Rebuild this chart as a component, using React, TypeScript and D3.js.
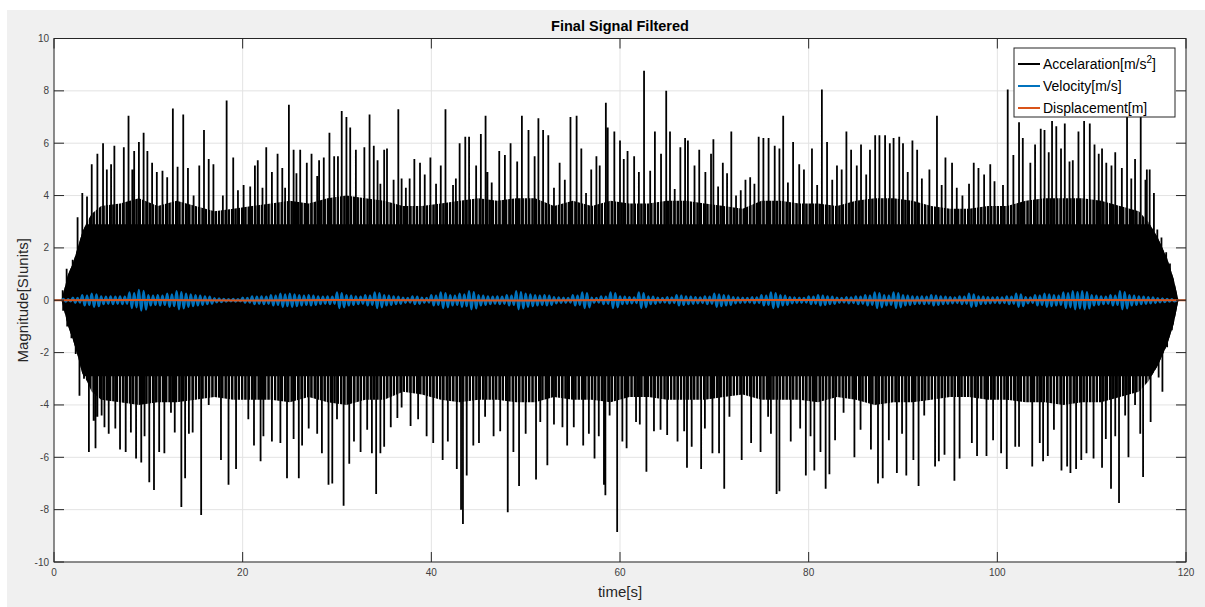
import React from 'react';
import * as d3 from 'd3';

const W = 1205;
const H = 607;

const xTicks = [0, 20, 40, 60, 80, 100, 120];
const yTicks = [-10, -8, -6, -4, -2, 0, 2, 4, 6, 8, 10];

// Acceleration: upper spike peaks [time, value]
const accUpperPeaks: [number, number][] = [
  [0.92, 0.38], [1.34, 1.2], [1.98, 1.55], [2.5, 3.17], [3.0, 4.1], [3.5, 3.96], [4.0, 5.2], [4.6, 5.6],
  [5.2, 6.0], [5.6, 5.0], [6.05, 5.2], [6.4, 5.9], [7.4, 5.85], [7.9, 7.05], [8.3, 5.0], [8.5, 5.7],
  [9.0, 6.05], [9.5, 6.4], [9.9, 5.7], [10.4, 5.25], [10.9, 4.9], [11.5, 4.95], [12.0, 4.7], [12.6, 7.33],
  [13.1, 5.1], [13.7, 7.1], [14.2, 5.05], [14.8, 4.0], [15.4, 5.15], [15.9, 6.5], [16.4, 5.4], [16.9, 5.2],
  [17.9, 4.0], [18.3, 7.63], [19.0, 5.45], [19.5, 4.2], [20.1, 4.4], [20.8, 4.35], [21.3, 5.15], [21.6, 5.35],
  [22.1, 4.3], [22.5, 5.85], [23.1, 4.9], [23.7, 5.6], [24.2, 5.05], [24.5, 4.3], [24.9, 7.47], [25.4, 5.75],
  [25.7, 4.85], [26.1, 5.75], [26.8, 5.25], [27.3, 5.6], [27.9, 4.75], [28.1, 5.35], [28.6, 5.45], [29.2, 6.4],
  [29.7, 5.5], [30.1, 5.5], [30.5, 7.23], [31.0, 7.0], [31.4, 6.6], [32.0, 5.75], [32.9, 5.85], [33.45, 7.1],
  [33.9, 5.9], [34.3, 5.35], [34.6, 4.45], [35.0, 5.75], [35.3, 5.8], [36.0, 4.6], [36.5, 7.3], [36.85, 4.65],
  [37.3, 4.3], [37.7, 4.65], [38.2, 5.4], [38.8, 5.25], [39.3, 4.8], [39.9, 5.45], [40.5, 4.45], [41.0, 5.15],
  [41.5, 7.3], [42.3, 4.4], [42.6, 4.65], [43.0, 6.0], [43.6, 6.25], [44.0, 6.25], [44.75, 5.15], [45.25, 6.35],
  [45.75, 7.05], [45.95, 4.9], [46.4, 4.5], [47.2, 5.7], [47.8, 5.55], [48.4, 6.0], [49.1, 5.3], [49.6, 7.05],
  [50.3, 6.5], [50.95, 5.5], [51.35, 6.95], [51.85, 6.5], [52.4, 6.3], [53.0, 4.3], [53.6, 5.25], [54.15, 4.6],
  [54.75, 7.0], [55.4, 7.05], [55.9, 5.8], [56.4, 4.1], [56.95, 5.0], [57.5, 5.5], [57.85, 5.15], [58.5, 7.55],
  [58.7, 6.6], [59.4, 6.45], [60.0, 6.1], [60.4, 5.4], [60.8, 5.7], [61.5, 5.5], [62.0, 4.9], [62.55, 8.77],
  [63.2, 4.95], [63.7, 6.45], [64.35, 5.6], [64.9, 8.0], [65.3, 6.45], [65.8, 4.25], [66.4, 5.85], [66.9, 6.2],
  [67.2, 6.1], [67.9, 5.15], [68.4, 5.75], [69.05, 4.9], [69.65, 5.6], [69.9, 6.15], [70.4, 4.35], [70.9, 5.25],
  [71.35, 4.85], [71.8, 6.45], [72.3, 4.0], [72.8, 4.2], [73.3, 4.6], [73.8, 4.7], [74.25, 4.45], [74.7, 6.25],
  [75.2, 6.2], [75.75, 6.2], [76.4, 5.9], [76.9, 5.8], [77.3, 7.05], [77.8, 4.5], [78.35, 6.05], [79.0, 5.2],
  [79.5, 5.0], [80.35, 5.8], [80.9, 4.4], [81.4, 8.05], [81.95, 6.05], [82.5, 4.6], [83.0, 5.15], [83.5, 5.0],
  [84.0, 6.45], [84.5, 5.75], [85.1, 5.15], [85.55, 5.95], [86.1, 4.8], [86.5, 5.75], [87.05, 6.3], [87.5, 6.3],
  [88.1, 6.3], [88.6, 6.0], [89.0, 6.2], [89.6, 6.25], [90.0, 6.0], [90.5, 4.9], [91.0, 6.1], [91.5, 5.75],
  [92.0, 4.65], [92.8, 5.0], [93.6, 7.05], [94.1, 4.4], [94.5, 5.45], [95.2, 5.25], [95.7, 4.3], [96.3, 4.0],
  [97.0, 4.45], [97.5, 5.25], [98.0, 5.05], [98.6, 4.8], [99.25, 5.2], [99.7, 4.55], [100.6, 4.4], [101.1, 8.05],
  [101.7, 5.55], [102.3, 6.8], [102.7, 6.2], [103.5, 5.25], [104.0, 5.95], [104.6, 6.55], [105.0, 6.5], [105.45, 5.65],
  [105.8, 6.85], [106.25, 6.65], [106.75, 5.8], [107.15, 6.75], [107.65, 5.3], [108.0, 5.35], [108.6, 6.45], [109.2, 6.85],
  [109.8, 6.75], [110.3, 5.95], [110.75, 5.6], [111.1, 5.8], [111.55, 5.25], [112.1, 5.15], [112.5, 5.65], [113.2, 5.05],
  [113.75, 7.05], [114.2, 4.65], [114.6, 5.4], [115.2, 7.0], [115.7, 4.6], [115.85, 5.0], [116.15, 5.0], [116.6, 4.1],
  [116.96, 2.7], [117.4, 2.4], [117.9, 1.83], [118.3, 1.4], [118.8, 0.4],
];

// Acceleration: lower spike peaks [time, value]
const accLowerPeaks: [number, number][] = [
  [0.97, -0.4], [1.4, -1.0], [1.85, -1.45], [2.3, -2.05], [2.7, -3.65], [3.18, -3.0], [3.7, -5.8], [4.2, -4.6],
  [4.4, -5.65], [4.6, -4.45], [5.05, -4.4], [5.35, -4.85], [5.8, -5.1], [6.5, -4.9], [7.0, -5.7], [7.6, -5.8],
  [8.15, -5.05], [8.7, -6.05], [9.25, -6.2], [9.6, -5.2], [10.1, -6.95], [10.6, -7.25], [11.15, -5.8], [11.7, -5.85],
  [12.4, -4.3], [12.8, -5.05], [13.5, -7.9], [13.9, -6.8], [14.3, -5.1], [14.7, -5.05], [15.6, -8.2], [16.4, -4.0],
  [17.7, -6.1], [18.5, -7.05], [19.3, -6.45], [20.6, -4.55], [21.2, -5.55], [21.9, -6.15], [22.2, -5.2], [23.1, -5.4],
  [24.0, -5.45], [24.7, -6.8], [25.4, -5.3], [25.95, -6.8], [26.3, -5.55], [27.0, -4.9], [27.9, -5.1], [28.4, -5.85],
  [29.1, -7.05], [29.5, -7.0], [30.0, -4.55], [30.7, -7.85], [31.3, -6.25], [31.8, -5.4], [32.5, -5.8], [33.2, -4.95],
  [33.7, -5.85], [34.15, -7.4], [34.6, -5.85], [35.0, -5.6], [35.7, -4.85], [36.4, -4.5], [36.85, -4.1], [37.8, -4.8],
  [38.6, -4.55], [39.5, -5.2], [40.2, -5.45], [41.2, -6.1], [41.75, -5.4], [42.7, -6.45], [43.15, -8.0], [43.35, -8.55],
  [43.75, -6.7], [44.45, -5.55], [45.05, -5.45], [45.7, -4.45], [46.6, -5.2], [47.3, -5.0], [48.1, -8.1], [48.7, -5.8],
  [49.3, -7.1], [50.0, -5.1], [51.1, -6.85], [51.55, -4.65], [52.3, -6.3], [53.0, -4.75], [53.9, -4.85], [54.4, -5.55],
  [55.1, -4.85], [56.1, -5.55], [56.7, -5.1], [57.3, -6.05], [57.75, -5.2], [58.3, -7.05], [58.45, -7.45], [58.9, -4.4],
  [59.7, -8.85], [60.25, -5.4], [60.7, -5.65], [61.7, -4.65], [62.1, -4.75], [62.8, -6.55], [63.6, -5.0], [64.3, -4.95],
  [65.0, -5.15], [66.1, -5.4], [66.8, -5.0], [67.1, -6.4], [67.6, -5.6], [68.6, -6.45], [69.0, -4.9], [69.8, -5.85],
  [70.5, -5.85], [71.05, -7.2], [71.6, -4.45], [72.9, -6.1], [73.9, -5.45], [74.9, -5.8], [75.7, -4.45], [76.0, -5.1],
  [76.6, -7.4], [76.9, -7.3], [78.1, -5.4], [79.1, -4.9], [79.7, -6.7], [80.2, -5.2], [80.6, -6.5], [81.25, -5.8],
  [81.8, -7.2], [82.2, -6.65], [82.8, -5.35], [83.7, -4.3], [84.85, -6.0], [85.5, -4.95], [86.6, -5.7], [87.35, -7.0],
  [87.85, -6.8], [88.5, -5.35], [89.35, -6.6], [89.9, -5.1], [90.35, -6.7], [91.1, -6.1], [91.65, -7.1], [92.25, -4.4],
  [93.4, -6.35], [93.8, -6.15], [94.4, -5.9], [95.45, -6.9], [96.0, -6.05], [97.3, -5.45], [97.85, -5.95], [98.85, -5.95],
  [99.55, -5.35], [100.4, -5.85], [101.0, -6.45], [101.9, -5.6], [102.3, -5.6], [103.7, -6.35], [104.5, -5.45], [104.85, -6.15],
  [105.35, -5.95], [106.0, -4.95], [106.8, -6.5], [107.4, -6.35], [107.75, -6.6], [108.35, -6.45], [108.9, -6.1], [109.45, -5.85],
  [110.2, -6.05], [111.1, -6.4], [111.5, -5.3], [112.05, -7.2], [112.5, -5.2], [112.9, -7.75], [113.55, -4.4], [113.9, -6.0],
  [114.6, -4.0], [115.15, -5.1], [115.45, -6.75], [116.25, -4.65], [117.1, -2.95], [117.5, -3.5], [118.0, -1.8], [118.5, -1.15],
  [119.0, -0.2],
];

// Acceleration: dense band envelope (where the trace is nearly solid)
const coreTimes = [
  0.8, 1.5, 2, 2.5, 3, 3.5, 4,
  5, 7, 9, 11, 13, 15, 17, 19, 21, 23, 25, 27, 29, 31, 33, 35, 37, 39, 41, 43, 45, 47, 49, 51, 53, 55, 57, 59,
  61, 63, 65, 67, 69, 71, 73, 75, 77, 79, 81, 83, 85, 87, 89, 91, 93, 95, 97, 99, 101, 103, 105, 107, 109, 111, 113, 115,
  116, 117, 118, 118.7, 119.2,
];
const coreUpper = [
  0, 1.0, 1.4, 2.0, 2.6, 3.0, 3.3,
  3.6, 3.7, 3.9, 3.6, 3.8, 3.6, 3.4, 3.5, 3.6, 3.7, 3.8, 3.7, 3.9, 4.0, 3.9, 3.8, 3.6, 3.6, 3.7, 3.8, 3.9, 3.8, 3.9, 3.9, 3.6, 3.8, 3.6, 3.8,
  3.7, 3.7, 3.8, 3.8, 3.7, 3.6, 3.5, 3.8, 3.8, 3.7, 3.7, 3.6, 3.8, 3.9, 3.9, 3.8, 3.6, 3.5, 3.5, 3.6, 3.6, 3.8, 3.9, 3.9, 3.9, 3.8, 3.6, 3.4,
  3.0, 2.4, 1.6, 0.8, 0,
];
const coreLower = [
  0, -1.0, -1.5, -2.1, -2.8, -3.1, -3.5,
  -3.8, -3.9, -4.0, -3.9, -3.9, -3.8, -3.7, -3.8, -3.8, -3.8, -3.9, -3.7, -3.9, -4.0, -3.8, -3.8, -3.5, -3.6, -3.8, -3.9, -3.8, -3.8, -3.9, -3.9, -3.7, -3.8, -3.8, -3.9,
  -3.7, -3.7, -3.8, -3.8, -3.8, -3.7, -3.6, -3.8, -3.8, -3.8, -3.9, -3.7, -3.8, -4.0, -3.9, -3.9, -3.8, -3.7, -3.7, -3.8, -3.8, -3.9, -3.9, -4.0, -3.9, -3.9, -3.7, -3.5,
  -3.1, -2.5, -1.7, -0.9, 0,
];

// Velocity: oscillation amplitude per second (t = 1 .. 118)
const velStart = 1;
const velAmplitude = [
  0.05, 0.1, 0.2, 0.25, 0.15, 0.15, 0.15, 0.3, 0.4, 0.2,
  0.2, 0.25, 0.35, 0.25, 0.2, 0.15, 0.08, 0.05, 0.05, 0.1,
  0.15, 0.15, 0.2, 0.25, 0.25, 0.2, 0.2, 0.15, 0.15, 0.3,
  0.2, 0.15, 0.2, 0.3, 0.2, 0.15, 0.1, 0.15, 0.1, 0.2,
  0.3, 0.2, 0.25, 0.35, 0.2, 0.15, 0.15, 0.2, 0.35, 0.25,
  0.2, 0.2, 0.12, 0.1, 0.2, 0.3, 0.1, 0.15, 0.3, 0.15,
  0.12, 0.3, 0.15, 0.1, 0.12, 0.2, 0.15, 0.12, 0.15, 0.25,
  0.2, 0.12, 0.1, 0.12, 0.2, 0.3, 0.2, 0.12, 0.1, 0.15,
  0.2, 0.15, 0.1, 0.12, 0.15, 0.2, 0.3, 0.2, 0.3, 0.2,
  0.15, 0.15, 0.2, 0.15, 0.12, 0.15, 0.25, 0.15, 0.12, 0.12,
  0.15, 0.25, 0.12, 0.2, 0.25, 0.2, 0.3, 0.35, 0.35, 0.2,
  0.15, 0.2, 0.35, 0.2, 0.15, 0.12, 0.08, 0.05,
];

// Displacement
const dispTimes = [0, 10, 20, 30, 40, 50, 60, 70, 80, 90, 100, 110, 120];
const dispValues = [0, 0.01, -0.01, 0.01, 0, -0.01, 0.01, 0, 0.01, -0.01, 0, 0.01, 0];

const legendItems = [
  { label: 'Accelaration[m/s', sup: '2', color: '#000000' },
  { label: 'Velocity[m/s]', sup: '', color: '#0072BD' },
  { label: 'Displacement[m]', sup: '', color: '#D95319' },
];

const M = { left: 54, top: 38.5, right: 1186, bottom: 562 };
const FONT = "'Liberation Sans', Arial, Helvetica, sans-serif";

export default function App() {
  const x = d3.scaleLinear().domain([0, 120]).range([M.left, M.right]);
  const y = d3.scaleLinear().domain([-10, 10]).range([M.bottom, M.top]);

  const coreData = coreTimes.map((t, i) => ({ t, u: coreUpper[i], l: coreLower[i] }));
  const coreArea = d3.area<{ t: number; u: number; l: number }>()
    .x(d => x(d.t)).y0(d => y(d.l)).y1(d => y(d.u))(coreData) || '';

  const spikes = [...accUpperPeaks, ...accLowerPeaks]
    .map(([t, v]) => `M${x(t).toFixed(2)},${y(0)}V${y(v).toFixed(2)}`).join('');

  const velPts: [number, number][] = [[0.8, 0]];
  velAmplitude.forEach((a, i) => {
    const t0 = velStart + i;
    velPts.push([t0, a], [t0 + 0.25, -a], [t0 + 0.5, a * 0.9], [t0 + 0.75, -a * 0.9]);
  });
  velPts.push([119, 0]);
  const velLine = d3.line<[number, number]>().x(d => x(d[0])).y(d => y(d[1])).curve(d3.curveMonotoneX)(velPts) || '';

  const dispLine = d3.line<number>().x((_, i) => x(dispTimes[i])).y(d => y(d))(dispValues) || '';

  const gridColor = '#e3e3e3';
  const axisColor = '#262626';
  const tickLen = 10;

  return (
    <svg width={W} height={H} style={{ position: 'absolute', left: 0, top: 0, display: 'block' }}
      fontFamily={FONT}>
      <rect x={0} y={0} width={W} height={H} fill="#ffffff" />
      <rect x={7} y={10} width={W - 7} height={H - 10} fill="#f0f0f0" />
      <rect x={M.left} y={M.top} width={M.right - M.left} height={M.bottom - M.top} fill="#ffffff" />
      <defs>
        <clipPath id="plotClip">
          <rect x={M.left} y={M.top} width={M.right - M.left} height={M.bottom - M.top} />
        </clipPath>
        <clipPath id="innerClip">
          <rect x={M.left} y={y(2.9)} width={M.right - M.left} height={y(-2.9) - y(2.9)} />
        </clipPath>
        <pattern id="stripes" patternUnits="userSpaceOnUse" x={0} y={0} width={3.3} height={10}>
          <rect x={0} y={0} width={2.5} height={10} fill="#000000" />
        </pattern>
      </defs>
      {/* grid */}
      <g stroke={gridColor} strokeWidth={1}>
        {xTicks.map(t => <line key={'gx' + t} x1={x(t)} x2={x(t)} y1={M.top} y2={M.bottom} />)}
        {yTicks.map(t => <line key={'gy' + t} x1={M.left} x2={M.right} y1={y(t)} y2={y(t)} />)}
      </g>
      {/* data */}
      <g clipPath="url(#plotClip)">
        <path d={coreArea} fill="url(#stripes)" />
        <path d={coreArea} fill="#000000" clipPath="url(#innerClip)" />
        <path d={spikes} stroke="#000000" strokeWidth={1.8} fill="none" />
        <path d={velLine} stroke="#0072BD" strokeWidth={2.2} fill="none" />
        <path d={dispLine} stroke="#D95319" strokeWidth={2} fill="none" />
      </g>
      {/* axes box */}
      <rect x={M.left} y={M.top} width={M.right - M.left} height={M.bottom - M.top} fill="none" stroke={axisColor} strokeWidth={1} />
      <g stroke={axisColor} strokeWidth={1}>
        {xTicks.map(t => (
          <g key={'tx' + t}>
            <line x1={x(t)} x2={x(t)} y1={M.bottom} y2={M.bottom - tickLen} />
            <line x1={x(t)} x2={x(t)} y1={M.top} y2={M.top + tickLen} />
          </g>
        ))}
        {yTicks.map(t => (
          <g key={'ty' + t}>
            <line x1={M.left} x2={M.left + tickLen} y1={y(t)} y2={y(t)} />
            <line x1={M.right} x2={M.right - tickLen} y1={y(t)} y2={y(t)} />
          </g>
        ))}
      </g>
      {/* tick labels */}
      <g fill="#404040" fontSize={10}>
        {xTicks.map(t => (
          <text key={'lx' + t} x={x(t)} y={M.bottom + 14} textAnchor="middle">{t}</text>
        ))}
        {yTicks.map(t => (
          <text key={'ly' + t} x={M.left - 5} y={y(t) + 3.5} textAnchor="end">{t}</text>
        ))}
      </g>
      {/* title & labels */}
      <text x={(M.left + M.right) / 2} y={31} textAnchor="middle" fontSize={14.5} fontWeight="bold" fill="#000000">Final Signal Filtered</text>
      <text x={(M.left + M.right) / 2} y={597} textAnchor="middle" fontSize={15} fill="#262626">time[s]</text>
      <text transform={`translate(28,${y(0)}) rotate(-90)`} textAnchor="middle" fontSize={15} fill="#262626">Magnitude[SIunits]</text>
      {/* legend */}
      <g>
        <rect x={1014} y={48} width={161} height={69} fill="#ffffff" stroke={axisColor} strokeWidth={1} />
        {legendItems.map((it, i) => {
          const ly = 64 + i * 22;
          return (
            <g key={it.label}>
              <line x1={1018} x2={1040} y1={ly} y2={ly} stroke={it.color} strokeWidth={2} />
              <text x={1043} y={ly + 5} fontSize={14} fill="#000000">
                {it.label}
                {it.sup ? <tspan dy={-6} fontSize={10}>{it.sup}</tspan> : null}
                {it.sup ? <tspan dy={6}>]</tspan> : null}
              </text>
            </g>
          );
        })}
      </g>
    </svg>
  );
}
